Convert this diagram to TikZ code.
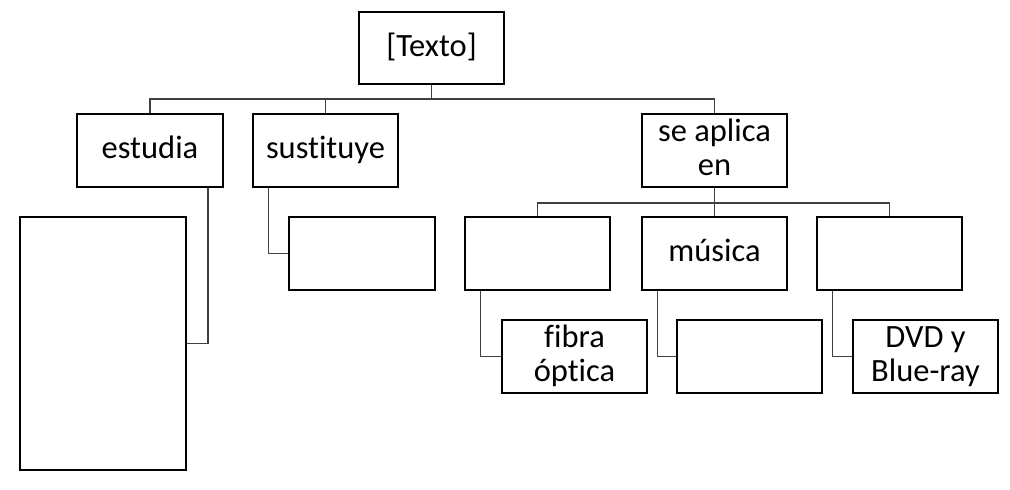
\documentclass[tikz,border=0pt]{standalone}
\usepackage{fontspec}
\setmainfont[Ligatures=CommonOff]{Carlito}
\newcommand\boxtop{\rule{0pt}{26.5pt}}
\newcommand\boxbot{\rule[-10.5pt]{0pt}{10.5pt}}

\begin{document}
\begin{tikzpicture}
[x=1pt,y=-1pt,
  boxdecorate/.style={shape=rectangle,draw,line width=1.5pt,inner sep=0pt,%
    align=center,font=\fontsize{32.5}{34}\selectfont},
  linedecorate/.style={-,line width=1.3pt,draw=black!75}]
\useasboundingbox (0,0) rectangle (1010,490);
%% boxes
\foreach \nodename/\x/\y/\w/\h/\boxtext in {
  %% first level
  root/431.5/48/145/72/{[Texto]},
  estudia/150/150.5/146/73/estudia, sustituye/325.5/150.5/145/73/sustituye,
  aplica/714.5/150.5/145/73/{se aplica\\en},
  %% second level
  big/103/343.5/166/253/{}, sustchild/362/253.5/146/73/{},
  blankleft/537.5/253.5/145/73/{}, musica/714.5/253.5/145/73/música,
  blankright/889.5/253.5/145/73/{},
  %% third level
  fibra/574.5/356.5/145/73/{fibra\\óptica}, blankmid/749.5/356.5/145/73/{},
  dvd/925.5/356.5/145/73/{DVD y\\Blue-ray}}
{
  \node (\nodename) at (\x,\y) [boxdecorate,minimum width=\w pt,minimum height=\h pt] {\boxtop\boxtext\boxbot};
}
%% connectors
\coordinate (topbus) at (431.5,99);
\coordinate (midbus) at (714.5,203);
\foreach \endnode in {estudia, sustituye, aplica}
  \draw[linedecorate] (root.south) -- (topbus) -| (\endnode.north);
\foreach \endnode in {blankleft, musica, blankright}
  \draw[linedecorate] (aplica.south) -- (midbus) -| (\endnode.north);
\draw[linedecorate] ([xshift=58pt]estudia.south) |- (big.east);
\foreach \startnode/\endnode in {sustituye/sustchild, blankleft/fibra,
  musica/blankmid, blankright/dvd}
  \draw[linedecorate] ([xshift=-57pt]\startnode.south) |- (\endnode.west);
\end{tikzpicture}
\end{document}
